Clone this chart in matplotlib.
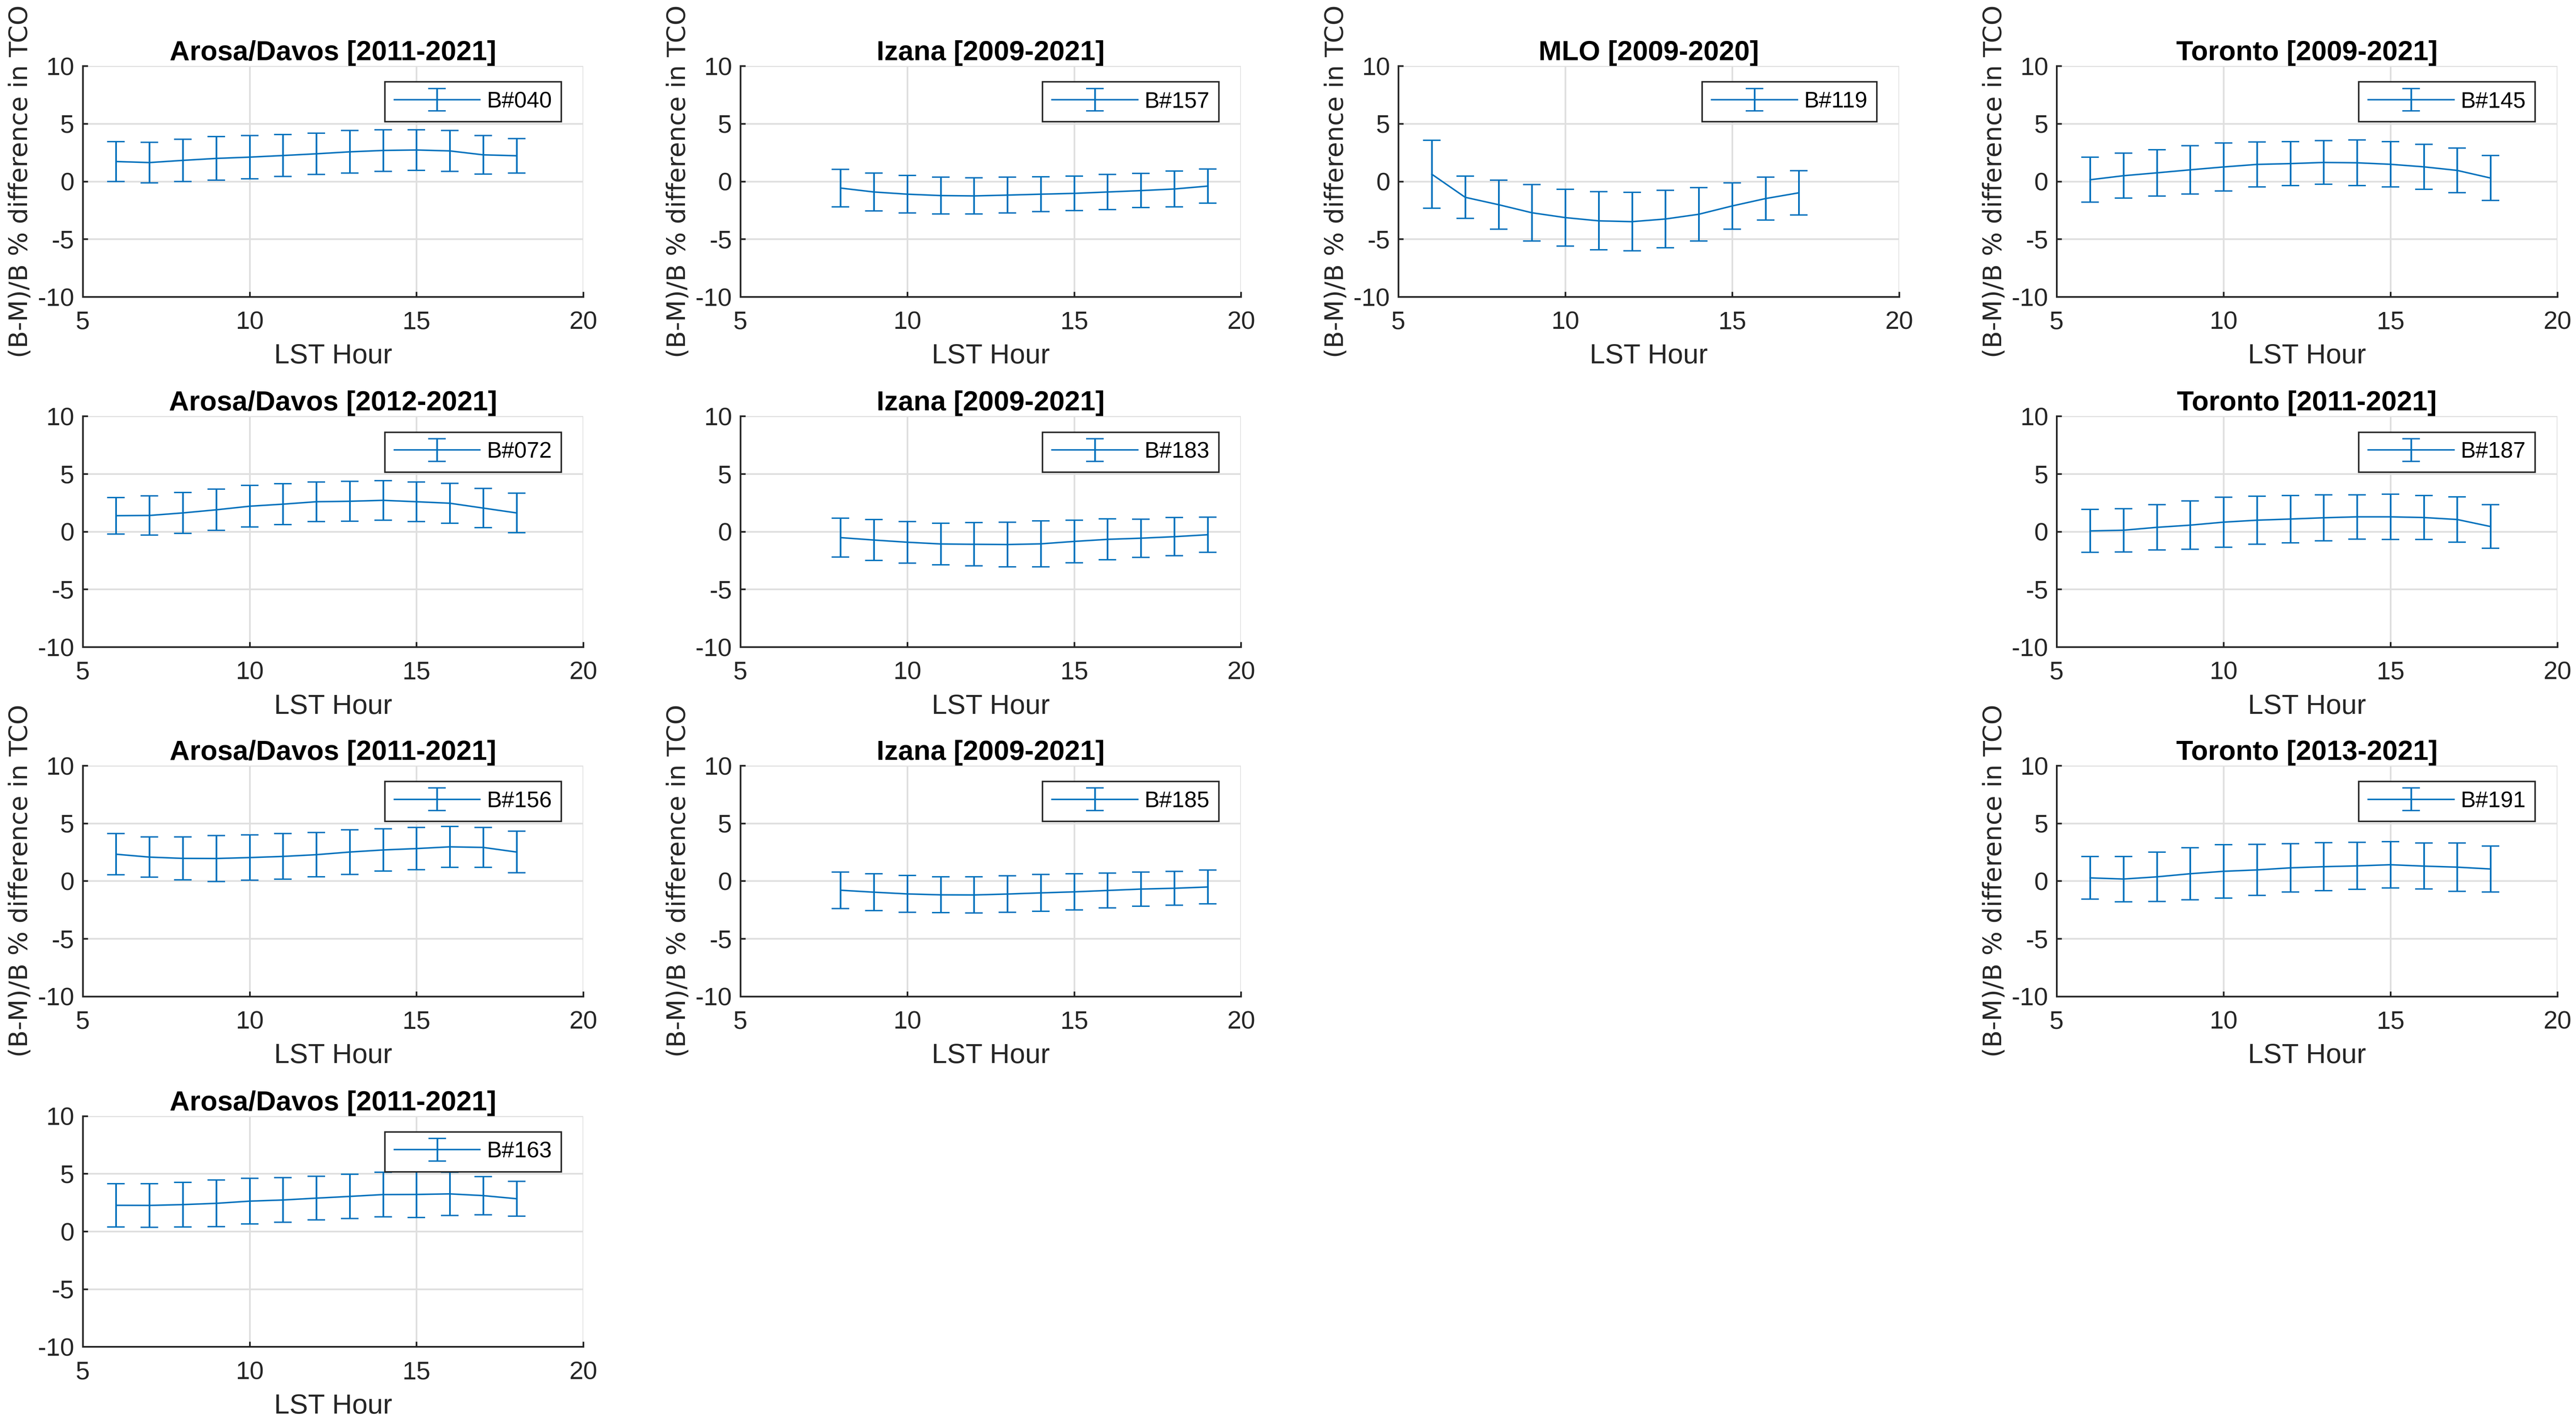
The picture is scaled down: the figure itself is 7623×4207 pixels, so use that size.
"""
Diurnal (B-M)/B % difference in TCO per Brewer, grid of errorbar panels.
"""

import matplotlib

matplotlib.use("Agg")
import matplotlib.pyplot as plt  # noqa: E402

plt.rcParams["font.family"] = ["Liberation Sans", "DejaVu Sans"]
plt.rcParams["axes.unicode_minus"] = False  # MATLAB-подібний дефіс "-10"

# ---------------------------------------------------------------------------
# Дані: середнє та півширина похибки по годинах LST
# ---------------------------------------------------------------------------

hours_6_18 = [6, 7, 8, 9, 10, 11, 12, 13, 14, 15, 16, 17, 18]
hours_8_19 = [8, 9, 10, 11, 12, 13, 14, 15, 16, 17, 18, 19]
hours_6_17 = [6, 7, 8, 9, 10, 11, 12, 13, 14, 15, 16, 17]

b040_mean = [1.72, 1.63, 1.82, 1.99, 2.10, 2.24, 2.39, 2.56, 2.68, 2.72, 2.64, 2.30, 2.22]
b040_err = [1.73, 1.75, 1.82, 1.89, 1.88, 1.81, 1.80, 1.85, 1.80, 1.76, 1.77, 1.67, 1.50]

b157_mean = [-0.58, -0.92, -1.11, -1.23, -1.26, -1.19, -1.11, -1.04, -0.92, -0.80, -0.66, -0.41]
b157_err = [1.62, 1.63, 1.63, 1.60, 1.57, 1.55, 1.52, 1.50, 1.51, 1.48, 1.56, 1.47]

b119_mean = [0.62, -1.38, -2.02, -2.72, -3.14, -3.42, -3.49, -3.26, -2.85, -2.13, -1.49, -0.99]
b119_err = [2.95, 1.83, 2.12, 2.45, 2.46, 2.52, 2.54, 2.48, 2.31, 2.01, 1.86, 1.91]

b145_mean = [0.14, 0.49, 0.74, 1.00, 1.25, 1.47, 1.54, 1.64, 1.61, 1.48, 1.26, 0.95, 0.29]
b145_err = [1.95, 1.95, 2.01, 2.09, 2.07, 1.94, 1.91, 1.89, 1.97, 1.96, 1.94, 1.93, 1.94]

b072_mean = [1.38, 1.40, 1.62, 1.89, 2.20, 2.38, 2.59, 2.63, 2.71, 2.59, 2.46, 2.04, 1.62]
b072_err = [1.58, 1.70, 1.76, 1.79, 1.80, 1.76, 1.71, 1.73, 1.71, 1.71, 1.72, 1.69, 1.70]

b183_mean = [-0.52, -0.73, -0.92, -1.07, -1.10, -1.12, -1.06, -0.85, -0.67, -0.57, -0.44, -0.27]
b183_err = [1.69, 1.77, 1.80, 1.81, 1.87, 1.94, 1.98, 1.85, 1.77, 1.66, 1.65, 1.52]

b187_mean = [0.06, 0.12, 0.37, 0.56, 0.82, 0.99, 1.09, 1.20, 1.28, 1.28, 1.22, 1.05, 0.44]
b187_err = [1.86, 1.88, 1.96, 2.09, 2.17, 2.09, 2.05, 1.99, 1.92, 1.96, 1.91, 1.97, 1.89]

b156_mean = [2.32, 2.07, 1.96, 1.95, 2.03, 2.13, 2.28, 2.51, 2.69, 2.81, 2.96, 2.91, 2.51]
b156_err = [1.79, 1.74, 1.86, 2.00, 1.96, 1.97, 1.93, 1.93, 1.82, 1.82, 1.77, 1.72, 1.80]

b185_mean = [-0.80, -0.97, -1.12, -1.20, -1.21, -1.13, -1.03, -0.94, -0.82, -0.70, -0.63, -0.52]
b185_err = [1.58, 1.60, 1.59, 1.55, 1.56, 1.59, 1.60, 1.56, 1.51, 1.47, 1.46, 1.47]

b191_mean = [0.27, 0.17, 0.36, 0.63, 0.84, 0.96, 1.14, 1.24, 1.31, 1.41, 1.29, 1.20, 1.04]
b191_err = [1.85, 1.96, 2.13, 2.26, 2.32, 2.22, 2.10, 2.09, 2.03, 2.00, 1.99, 2.09, 2.00]

b163_mean = [2.26, 2.25, 2.32, 2.43, 2.62, 2.72, 2.88, 3.03, 3.19, 3.20, 3.25, 3.10, 2.83]
b163_err = [1.88, 1.89, 1.93, 2.02, 1.98, 1.93, 1.89, 1.91, 1.94, 2.01, 1.88, 1.65, 1.50]

# (рядок, стовпчик, заголовок, легенда, години, середнє, похибка)
panels = [
    (0, 0, "Arosa/Davos [2011-2021]", "B#040", hours_6_18, b040_mean, b040_err),
    (0, 1, "Izana [2009-2021]", "B#157", hours_8_19, b157_mean, b157_err),
    (0, 2, "MLO [2009-2020]", "B#119", hours_6_17, b119_mean, b119_err),
    (0, 3, "Toronto [2009-2021]", "B#145", hours_6_18, b145_mean, b145_err),
    (1, 0, "Arosa/Davos [2012-2021]", "B#072", hours_6_18, b072_mean, b072_err),
    (1, 1, "Izana [2009-2021]", "B#183", hours_8_19, b183_mean, b183_err),
    (1, 3, "Toronto [2011-2021]", "B#187", hours_6_18, b187_mean, b187_err),
    (2, 0, "Arosa/Davos [2011-2021]", "B#156", hours_6_18, b156_mean, b156_err),
    (2, 1, "Izana [2009-2021]", "B#185", hours_8_19, b185_mean, b185_err),
    (2, 3, "Toronto [2013-2021]", "B#191", hours_6_18, b191_mean, b191_err),
    (3, 0, "Arosa/Davos [2011-2021]", "B#163", hours_6_18, b163_mean, b163_err),
]

# ---------------------------------------------------------------------------
# Розкладка та стиль
# ---------------------------------------------------------------------------

LINE_COLOR = "#0072BD"
AX_COLOR = "#262626"
GRID_COLOR = "#dfdfdf"

COL_LEFT = [0.0321, 0.2874, 0.5428, 0.7983]
ROW_BOTTOM = [0.7913, 0.5450, 0.2993, 0.0529]
AX_W = 0.1943
AX_H = 0.1623

fig = plt.figure(figsize=(38.12, 21.035), dpi=200)

for row, col, title, label, hours, mean, err in panels:
    ax = fig.add_axes([COL_LEFT[col], ROW_BOTTOM[row], AX_W, AX_H])
    ax.errorbar(
        hours, mean, yerr=err,
        color=LINE_COLOR, lw=1.6, elinewidth=1.8,
        capsize=9.2, capthick=1.5, label=label,
    )
    ax.set_xlim(5, 20)
    ax.set_ylim(-10, 10)
    ax.set_xticks([5, 10, 15, 20])
    ax.set_yticks([-10, -5, 0, 5, 10])

    ax.grid(True, color=GRID_COLOR, lw=1.8)
    ax.set_axisbelow(True)
    for side in ("top", "right"):
        ax.spines[side].set_visible(False)
    for side in ("left", "bottom"):
        ax.spines[side].set_color(AX_COLOR)
        ax.spines[side].set_linewidth(1.8)
    ax.tick_params(axis="both", direction="in", length=5.4, width=1.8,
                   colors=AX_COLOR, labelsize=27)
    ax.tick_params(axis="x", pad=15)
    ax.tick_params(axis="y", pad=9)

    ax.set_title(title, fontsize=29.5, fontweight="bold", pad=2, color="black")
    ax.set_xlabel("LST Hour", fontsize=29.5, labelpad=10, color=AX_COLOR)
    if row in (0, 2):
        ax.set_ylabel("(B-M)/B % difference in TCO", fontsize=27,
                      family="DejaVu Sans", labelpad=5, color=AX_COLOR)

    leg = ax.legend(
        loc="upper right", bbox_to_anchor=(0.956, 0.931), borderaxespad=0,
        fontsize=24, handlelength=3.8, handletextpad=0.3, borderpad=0.42,
        fancybox=False, edgecolor=AX_COLOR, framealpha=1,
    )
    leg.get_frame().set_linewidth(1.6)

fig.savefig("out.png", dpi=200, facecolor="white")
plt.close(fig)
